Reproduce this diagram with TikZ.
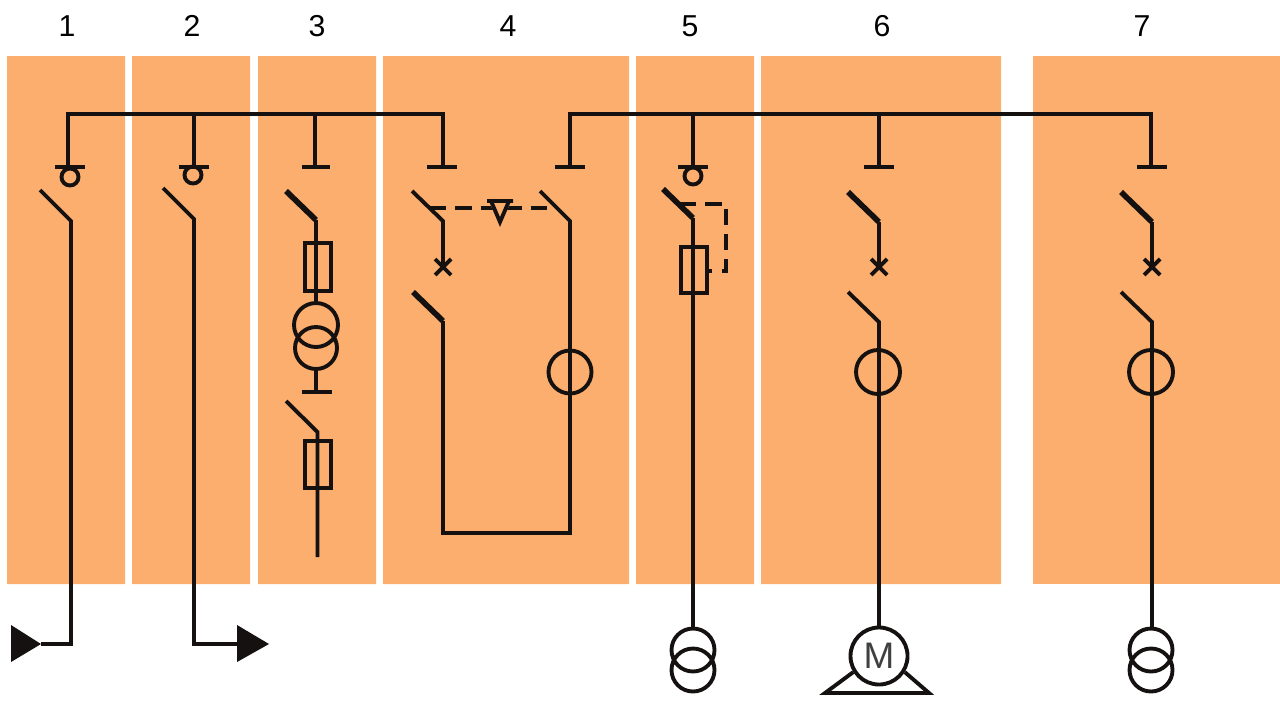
\documentclass[tikz,border=0pt]{standalone}
\usepackage{fontspec}
\setmainfont{Liberation Sans}
\usepackage{xcolor}
\definecolor{cellbg}{HTML}{FBAE6D}
\definecolor{wire}{HTML}{141110}
\tikzset{
  wr/.style={draw=wire,line width=1.1pt},
  blade/.style={draw=wire,line width=1.6pt},
  link/.style={draw=wire,line width=1.1pt,dash pattern=on 4.6pt off 2.6pt},
  num/.style={font=\fontsize{8.6}{10}\selectfont,text=black,inner sep=0pt},
}
\begin{document}
\begin{tikzpicture}[x=0.01cm,y=-0.01cm]
\useasboundingbox (0,0) rectangle (1280,700);
% cells
\fill[cellbg](7,56) rectangle (125,584)(132,56) rectangle (250,584)(258,56) rectangle (376,584);
\fill[cellbg](383,56) rectangle (629,584)(636,56) rectangle (754,584)(761,56) rectangle (1001,584);
\fill[cellbg](1033,56) rectangle (1280,584);
% numbers
\node[num] (n1) at (67,26) {1};
\node[num] (n2) at (192,26) {2};
\node[num] (n3) at (317,26) {3};
\node[num] (n4) at (508,26) {4};
\node[num] (n5) at (690,26) {5};
\node[num] (n6) at (882,26) {6};
\node[num] (n7) at (1142,26) {7};
% bus bars
\coordinate (A1) at (68,114);
\coordinate (A2) at (194,114);
\coordinate (A3) at (315,114);
\coordinate (A4) at (443,114);
\coordinate (B4) at (570,114);
\coordinate (B5) at (693,114);
\coordinate (B6) at (879,114);
\coordinate (B7) at (1151,114);
\coordinate (a1) at (68,167);
\coordinate (a2) at (194,167);
\coordinate (a3) at (315,167);
\coordinate (a4) at (443,167);
\coordinate (b4) at (570,167);
\coordinate (b5) at (693,167);
\coordinate (b6) at (879,167);
\coordinate (b7) at (1151,167);
\draw[wr](a1)--(A1)--(A4)--(a4)(A2)--(a2)(A3)--(a3);
\draw[wr](b4)--(B4)--(B7)--(b7)(B5)--(b5)(B6)--(b6);
\draw[wr](55,167)--(85,167)(179,167)--(209,167)(302,167)--(330,167)(427,167)--(457,167);
\draw[wr](555,167)--(585,167)(678,167)--(708,167)(864,167)--(894,167)(1137,167)--(1167,167);
\draw[wr](70,177) circle (8.5)(193,175) circle (8.5)(693,176) circle (8.5);
% panel 1
\coordinate (C1) at (71,221);
\coordinate (D1) at (71,644);
\coordinate (E1) at (41,644);
\draw[wr](40,190)--(C1)--(D1)--(E1);
\fill[wire](11,625)--(E1)--(11,662)--cycle;
% panel 2
\coordinate (C2) at (194,219);
\coordinate (D2) at (194,644);
\coordinate (E2) at (237,644);
\draw[wr](163,188)--(C2)--(D2)--(E2);
\fill[wire](237,625)--(269,644)--(237,662)--cycle;
% panel 3
\coordinate (C3) at (316,220);
\coordinate (F3) at (316,303);
\draw[blade](286,191)--(C3);
\draw[wr](C3)--(F3);
\draw[wr](305,243) rectangle (331,291);
\draw[wr](316,325) circle (22)(316,348) circle (21);
\draw[wr](316,369)--(316,392)(302,392)--(332,392);
\coordinate (G3) at (317.5,432);
\coordinate (H3) at (317.5,557);
\draw[wr](286,401)--(G3)--(H3);
\draw[wr](305,441) rectangle (331,488);
% panel 4
\coordinate (C4) at (443,221);
\coordinate (X4) at (443,267);
\coordinate (J4) at (443,321);
\coordinate (K4) at (443,533);
\coordinate (L4) at (570,533);
\coordinate (M4) at (570,221);
\draw[wr](412,191)--(C4)--(X4);
\draw[wr](435,259)--(451,275)(435,275)--(451,259);
\draw[blade](413,292)--(J4);
\draw[wr](J4)--(K4)--(L4)--(M4)--(540,191);
\draw[wr](570,372) circle (21.5);
\draw[link](430,208)--(552,208);
\fill[cellbg](488,201)--(512,201)--(500,222)--cycle;
\draw[wr](487,201)--(513,201)(491,201)--(500,222)--(509,201);
% panel 5
\coordinate (C5) at (693,218);
\coordinate (D5) at (693,628);
\draw[blade](663,189)--(C5);
\draw[wr](C5)--(D5);
\draw[wr](681,247) rectangle (707,293);
\draw[link](680,204)--(726,204)--(726,271)--(707,271);
\draw[wr](693,650) circle (21.5)(693,670) circle (21.5);
% panel 6
\coordinate (C6) at (879,222);
\coordinate (X6) at (879,267);
\coordinate (J6) at (879,322);
\coordinate (D6) at (879,627);
\draw[blade](848,192)--(C6);
\draw[wr](C6)--(X6);
\draw[wr](871,259)--(887,275)(871,275)--(887,259);
\draw[wr](848,292)--(J6)--(D6);
\draw[wr](878,372) circle (22);
\node[circle,draw=wire,line width=1.1pt,minimum size=0.57cm,inner sep=0pt,font=\fontsize{10.5}{12}\selectfont,text=black!75] (Mot) at (879,656) {M};
\draw[wr](Mot.-148)--(825,693)--(929,693)--(Mot.-32);
% panel 7
\coordinate (C7) at (1152,222);
\coordinate (X7) at (1152,267);
\coordinate (J7) at (1152,322);
\coordinate (D7) at (1152,628);
\draw[blade](1121,192)--(C7);
\draw[wr](C7)--(X7);
\draw[wr](1144,259)--(1160,275)(1144,275)--(1160,259);
\draw[wr](1121,292)--(J7)--(D7);
\draw[wr](1151,372) circle (22);
\draw[wr](1151,650) circle (21.5)(1151,670) circle (21.5);
\end{tikzpicture}
\end{document}
